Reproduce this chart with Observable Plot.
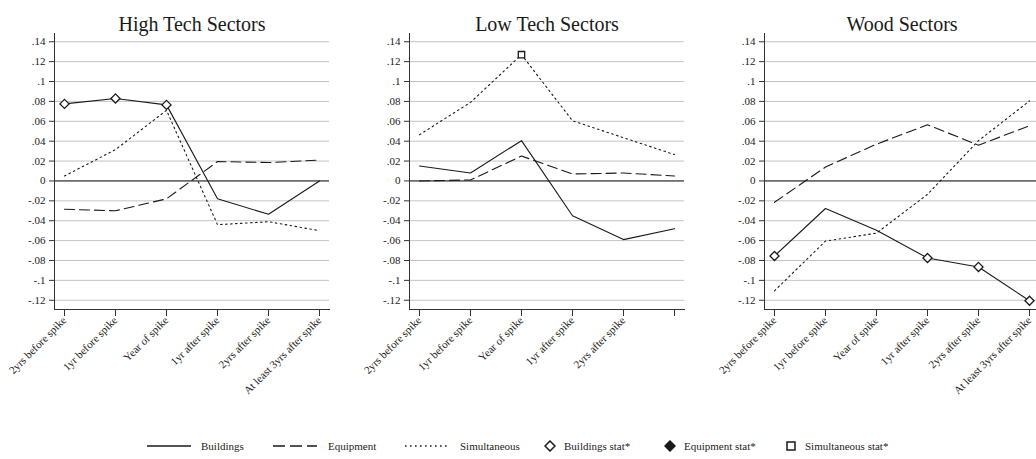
<!DOCTYPE html>
<html>
<head>
<meta charset="utf-8">
<script src="https://cdn.jsdelivr.net/npm/d3@7"></script>
<script src="https://cdn.jsdelivr.net/npm/@observablehq/plot@0.6"></script>
<style>
  html, body { margin: 0; padding: 0; background: #fff; overflow: hidden; width: 1036px; height: 459px; }
  #wrap { position: relative; width: 1036px; height: 459px; overflow: hidden; font-family: "Liberation Serif", "Times New Roman", Times, serif; }
  #charts { position: absolute; left: 0; top: 0; display: flex; width: 1070px; }
  #charts > div { width: 355px; flex: none; }
  #charts svg text { font-family: "Liberation Serif", "Times New Roman", Times, serif; }
  #legend { position: absolute; left: 0; top: 437px; width: 1036px; height: 18px; font-size: 11px; color: #222; }
  #legend .it { position: absolute; top: 0; height: 18px; display: flex; align-items: center; white-space: nowrap; }
  #legend svg { display: block; }
</style>
</head>
<body>
<div id="wrap">
  <div id="charts"></div>
  <div id="legend"></div>
</div>
<script>
// ---- data ----
const categories = ["2yrs before spike", "1yr before spike", "Year of spike", "1yr after spike", "2yrs after spike", "At least 3yrs after spike"];
const panels = ["High Tech Sectors", "Low Tech Sectors", "Wood Sectors"];
const yTicks = [-0.12, -0.10, -0.08, -0.06, -0.04, -0.02, 0, 0.02, 0.04, 0.06, 0.08, 0.10, 0.12, 0.14];

const hiBuildings    = [0.0775, 0.083, 0.0765, -0.018, -0.0335, 0.000];
const hiEquipment    = [-0.0285, -0.030, -0.018, 0.0195, 0.0185, 0.021];
const hiSimultaneous = [0.005, 0.0315, 0.071, -0.044, -0.041, -0.050];

const loBuildings    = [0.015, 0.008, 0.0405, -0.035, -0.059, -0.048];
const loEquipment    = [0.000, 0.001, 0.025, 0.007, 0.008, 0.005];
const loSimultaneous = [0.0465, 0.079, 0.127, 0.0605, 0.0435, 0.0265];

const woBuildings    = [-0.0755, -0.0277, -0.0495, -0.0775, -0.0865, -0.1205];
const woEquipment    = [-0.0215, 0.0140, 0.0370, 0.0565, 0.0360, 0.0555];
const woSimultaneous = [-0.1105, -0.0605, -0.0525, -0.0135, 0.0405, 0.0805];

// significance markers (true = stat*)
const hiBuildingsStat    = [true, true, true, false, false, false];
const loSimultaneousStat = [false, false, true, false, false, false];
const woBuildingsStat    = [true, false, false, true, true, true];

const hiddenTickLabels = {"Low Tech Sectors": ["At least 3yrs after spike"]};

const seriesNames = ["Buildings", "Equipment", "Simultaneous"];
const legendLabels = ["Buildings", "Equipment", "Simultaneous", "Buildings stat*", "Equipment stat*", "Simultaneous stat*"];

const panelData = {
  "High Tech Sectors": {Buildings: hiBuildings, Equipment: hiEquipment, Simultaneous: hiSimultaneous,
                        stats: {Buildings: hiBuildingsStat}},
  "Low Tech Sectors":  {Buildings: loBuildings, Equipment: loEquipment, Simultaneous: loSimultaneous,
                        stats: {Simultaneous: loSimultaneousStat}},
  "Wood Sectors":      {Buildings: woBuildings, Equipment: woEquipment, Simultaneous: woSimultaneous,
                        stats: {Buildings: woBuildingsStat}}
};

// ---- styles ----
const serif = '"Liberation Serif", "Times New Roman", Times, serif';
const dash = {Buildings: null, Equipment: "10,5", Simultaneous: "1.6,3.4"};
const statSymbol = {Buildings: "diamond2", Equipment: "diamond2", Simultaneous: "square"};
const statR = {Buildings: 4.1, Equipment: 4.1, Simultaneous: 3.6};
const ink = "#1a1a1a";
const yDomain = [-0.1293, 0.1483];
const fmtY = d => d === 0 ? "0" : String(+d.toFixed(2)).replace(/^(-?)0\./, "$1.");

const charts = document.getElementById("charts");

for (const p of panels) {
  const pd = panelData[p];
  const rows = [];
  for (const s of seriesNames) {
    pd[s].forEach((v, i) => rows.push({panel: p, series: s, cat: categories[i], value: v,
      stat: pd.stats[s] ? pd.stats[s][i] : false}));
  }
  const hidden = hiddenTickLabels[p] || [];
  const marks = [
    Plot.gridY(yTicks, {stroke: "#c4c4c4", strokeOpacity: 1, strokeWidth: 1}),
    Plot.ruleY([0], {stroke: ink, strokeWidth: 1}),
    Plot.frame({anchor: "left", stroke: "#333"}),
    Plot.frame({anchor: "bottom", stroke: "#333"}),
    Plot.axisY(yTicks, {tickSize: 5, tickPadding: 4, tickFormat: fmtY, fontSize: 11, stroke: "#333", fill: "#222", fontFamily: serif}),
    Plot.axisX({tickSize: 7, tickPadding: 2, tickRotate: -45, fontSize: 11, stroke: "#333", fill: "#222", fontFamily: serif,
      tickFormat: d => hidden.includes(d) ? "" : d}),
    ...seriesNames.map(s => Plot.line(rows.filter(r => r.series === s), {
      x: "cat", y: "value", stroke: ink, strokeWidth: 1.1, strokeDasharray: dash[s]
    })),
    ...seriesNames.map(s => Plot.dot(rows.filter(r => r.series === s && r.stat), {
      x: "cat", y: "value", symbol: statSymbol[s], r: statR[s], stroke: ink, strokeWidth: 1.3,
      fill: s === "Equipment" ? ink : "white"
    })),
    Plot.text([p], {frameAnchor: "top", dy: -16.5, text: d => d, fontSize: 20, fill: "#1a1a1a", fontFamily: serif})
  ];
  const chart = Plot.plot({
    width: 355, height: 420,
    marginLeft: 54, marginRight: 26, marginTop: 33, marginBottom: 111,
    style: {fontFamily: serif, background: "white", overflow: "visible"},
    x: {type: "point", domain: categories, padding: 0.175, label: null},
    y: {domain: yDomain, label: null},
    marks
  });
  const div = document.createElement("div");
  div.appendChild(chart);
  charts.appendChild(div);
}

// ---- legend ----
const legend = document.getElementById("legend");
const legendPos = [147, 273, 405, 544, 664, 785];
const legendTextGap = [10, 11, 11, 8, 8, 8];
legendLabels.forEach((lab, i) => {
  const it = document.createElement("div");
  it.className = "it";
  it.style.left = legendPos[i] + "px";
  let sw;
  if (i < 3) {
    const s = seriesNames[i];
    sw = `<svg width="44" height="10"><line x1="0" x2="44" y1="5" y2="5" stroke="${ink}" stroke-width="1.3" ${dash[s] ? `stroke-dasharray="${i === 1 ? "12,5" : "1.6,3.4"}"` : ""}/></svg>`;
  } else if (i < 5) {
    sw = `<svg width="12" height="12"><path d="M6,1 L11,6 L6,11 L1,6 Z" fill="${i === 4 ? ink : "white"}" stroke="${ink}" stroke-width="1.5"/></svg>`;
  } else {
    sw = `<svg width="12" height="12"><rect x="2" y="2" width="8" height="8" fill="white" stroke="${ink}" stroke-width="1.5"/></svg>`;
  }
  it.innerHTML = sw + `<span style="margin-left:${legendTextGap[i]}px">${lab}</span>`;
  legend.appendChild(it);
});
</script>
</body>
</html>
